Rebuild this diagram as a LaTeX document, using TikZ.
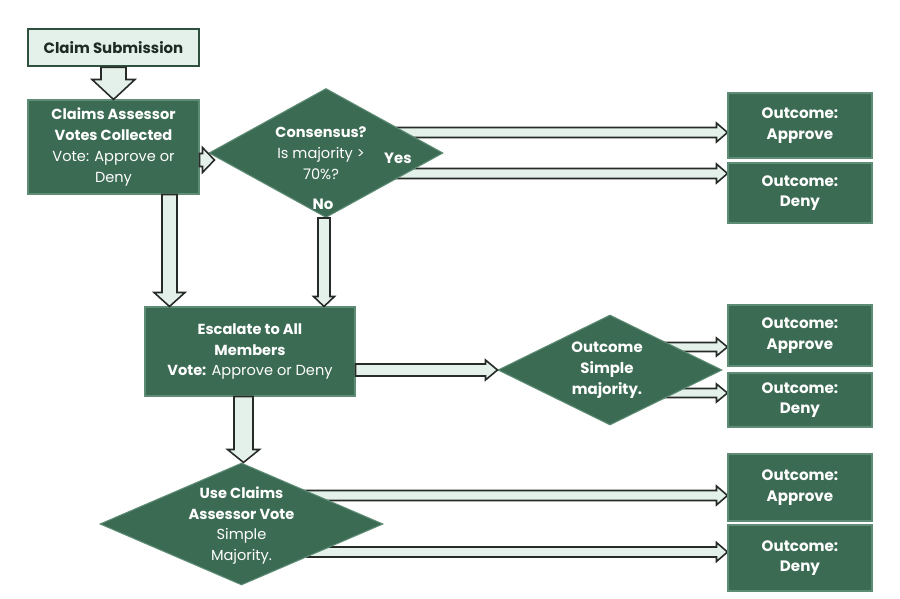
\documentclass[tikz,border=0pt]{standalone}
\usepackage{fontspec}
\setmainfont{Poppins}
\usetikzlibrary{positioning, shapes.geometric, calc, backgrounds}
\definecolor{flowgreen}{HTML}{3C6B54}
\definecolor{flowedge}{HTML}{5E8C74}
\definecolor{flowdark}{HTML}{2F4F3F}
\definecolor{flowlight}{HTML}{E4F1EA}
\definecolor{arrowline}{HTML}{262B28}
\definecolor{flowtext}{HTML}{1E2B24}

\begin{document}
\begin{tikzpicture}[
  every node/.style={font=\fontsize{8.3}{11.8}\selectfont},
  startnode/.style={rectangle, draw=flowdark, line width=1.6pt, fill=flowlight, text=flowtext, font=\fontsize{8.5}{11.8}\selectfont\bfseries},
  stepnode/.style={rectangle, draw=flowedge, fill=flowgreen, line width=0.6pt, text=white, align=center},
  decnode/.style={diamond, draw=flowedge, fill=flowgreen, line width=0.6pt, inner sep=0pt},
  dectext/.style={text=white, align=center},
  outnode/.style={rectangle, draw=flowedge, fill=flowgreen, line width=0.6pt, text=white, align=center, minimum width=2.88cm, font=\fontsize{8.6}{11.8}\selectfont\bfseries},
  tagnode/.style={text=white, font=\fontsize{8.5}{11.8}\selectfont\bfseries},
  blockarrow/.style n args={3}{draw=arrowline, fill=flowlight, line width=0.9pt,
    to path={let \p1=(\tikztostart), \p2=(\tikztotarget), \n1={atan2(\y2-\y1,\x2-\x1)} in
      ($(\p1)+({\n1+90}:#1)$) -- ($(\p2)+({\n1+180}:#3)+({\n1+90}:#1)$) -- ($(\p2)+({\n1+180}:#3)+({\n1+90}:#2)$)
      -- (\p2) -- ($(\p2)+({\n1+180}:#3)+({\n1-90}:#2)$) -- ($(\p2)+({\n1+180}:#3)+({\n1-90}:#1)$)
      -- ($(\p1)+({\n1-90}:#1)$) -- cycle}},
]
\useasboundingbox (0,0) rectangle (18,-11.98);

% first round
\node[startnode, minimum width=3.42cm, minimum height=0.74cm] (sub) at (2.27,-0.95) {Claim Submission};
\node[stepnode, minimum width=3.42cm, minimum height=1.88cm] (cas) at (2.27,-2.94) {\textbf{Claims Assessor}\\\textbf{Votes Collected}\\Vote: Approve or\\Deny};
\node[decnode, minimum width=4.68cm, minimum height=2.58cm,
  label={[dectext, xshift=-1mm]center:{\textbf{Consensus?}\\Is majority >\\70\%?}}] (d1) at (6.52,-3.06) {};
\node[tagnode] (yes) at (7.96,-3.16) {Yes};
\node[tagnode] (no) at (6.46,-4.08) {No};
\node[outnode, minimum height=1.3cm] (ap1) at (16,-2.51) {Outcome:\\Approve};
\node[outnode, minimum height=1.2cm] (dn1) at (16,-3.86) {Outcome:\\Deny};

% escalation
\node[stepnode, minimum width=4.2cm, minimum height=1.78cm] (esc) at (5.0,-7.03) {\textbf{Escalate to All}\\\textbf{Members}\\\textbf{Vote:} Approve or Deny};
\node[decnode, minimum width=4.48cm, minimum height=2.2cm,
  label={[dectext, font=\fontsize{8.5}{11.8}\selectfont\bfseries, xshift=-0.6mm]center:{Outcome\\Simple\\majority.}}] (d2) at (12.2,-7.4) {};
\node[outnode, minimum height=1.22cm] (ap2) at (16,-6.71) {Outcome:\\Approve};
\node[outnode, minimum height=1.08cm] (dn2) at (16,-8.0) {Outcome:\\Deny};

% fallback
\node[decnode, minimum width=5.66cm, minimum height=2.44cm,
  label={[dectext, yshift=-0.3mm]center:{\textbf{Use Claims}\\\textbf{Assessor Vote}\\Simple\\Majority.}}] (d3) at (4.83,-10.48) {};
\node[outnode, minimum height=1.34cm] (ap3) at (16,-9.75) {Outcome:\\Approve};
\node[outnode, minimum height=1.32cm] (dn3) at (16,-11.16) {Outcome:\\Deny};

\draw[blockarrow={0.25}{0.43}{0.4}] (sub.south) to (cas.north);
\draw[blockarrow={0.13}{0.25}{0.24}] ([yshift=-2.6mm]cas.east) to ([yshift=-2.6mm,xshift=1.2mm]cas.east -| d1.west);
\draw[blockarrow={0.15}{0.31}{0.28}] ([xshift=1.12cm]cas.south) to ([xshift=1.12cm]cas.south |- esc.north);
\draw[blockarrow={0.12}{0.21}{0.2}] ([xshift=-0.4mm]d1.south) to ([xshift=-0.4mm]d1.south |- esc.north);
\draw[blockarrow={0.12}{0.2}{0.24}] (esc.east |- d2.west) to (d2.west);
\draw[blockarrow={0.19}{0.32}{0.26}] ([xshift=-1.3mm]esc.south) to ([xshift=-1.3mm]esc.south |- d3.north);

\begin{scope}[on background layer]
\draw[blockarrow={0.1}{0.19}{0.22}] ([yshift=4.1mm]d1.center) to ([yshift=4.1mm]d1.center -| ap1.west);
\draw[blockarrow={0.1}{0.19}{0.22}] ([yshift=-4.1mm]d1.center) to ([yshift=-4.1mm]d1.center -| dn1.west);
\draw[blockarrow={0.09}{0.18}{0.22}] ([yshift=4.6mm]d2.center) to ([yshift=4.6mm]d2.center -| ap2.west);
\draw[blockarrow={0.09}{0.18}{0.22}] ([yshift=-4.6mm]d2.center) to ([yshift=-4.6mm]d2.center -| dn2.west);
\draw[blockarrow={0.1}{0.19}{0.22}] ([yshift=5.7mm]d3.center) to ([yshift=5.7mm]d3.center -| ap3.west);
\draw[blockarrow={0.1}{0.19}{0.22}] ([yshift=-5.6mm]d3.center) to ([yshift=-5.6mm]d3.center -| dn3.west);
\end{scope}
\end{tikzpicture}
\end{document}
